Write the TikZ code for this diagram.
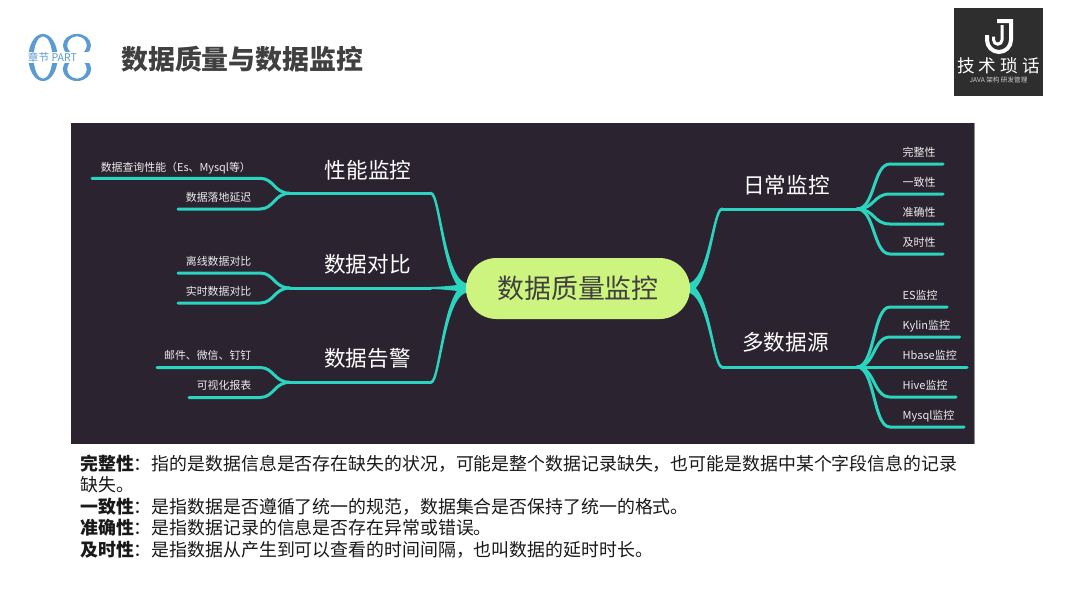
\documentclass[tikz,border=0pt]{standalone}
\usepackage{fontspec}
\setmainfont{Noto Sans CJK SC}
\usetikzlibrary{calc}
\definecolor{panel}{HTML}{2B2430}
\definecolor{teal1}{HTML}{2AD4BE}
\definecolor{rootc}{HTML}{CDF47F}
\definecolor{blue1}{HTML}{5B9BD5}
\newcommand{\fs}[1]{\fontsize{#1pt}{#1pt}\selectfont}
\tikzset{
  x=1pt,y=-1pt,
  branchtxt/.style={text=white,inner sep=0,font=\fs{21.6}},
  leaftxt/.style={text=white!92!black,inner sep=0,font=\fs{10.9},anchor=base east},
  leafr/.style={text=white!92!black,inner sep=0,font=\fs{11},anchor=base west},
  link/.style={draw=teal1,line width=3pt,line cap=round},
  taper/.style={fill=teal1,draw=teal1,line width=2pt,line join=round},
  bodyline/.style={anchor=base west,inner sep=0,text=black!90,font=\fs{17.9}},
}
\newcommand{\tp}[6]{%
  \path[taper] ($(#1)+(0,-#3)$) .. controls ($(#1)+(#4,-#3)$) and ($(#2)+(#5,#6-0.4)$) .. ($(#2)+(0,-0.5)$)
    -- ($(#2)+(0,0.5)$) .. controls ($(#2)+(#5,#6+0.4)$) and ($(#1)+(#4,#3)$) .. ($(#1)+(0,#3)$) -- cycle;}
\begin{document}
\begin{tikzpicture}
\useasboundingbox (0,0) rectangle (1080,608);
\fill[white] (0,0) rectangle (1080,608);

% section mark 08
\fill[blue1,even odd rule] (43,57.5) ellipse (14.6 and 23.6) (43,57.5) ellipse (9.4 and 21.2);
\fill[blue1,even odd rule] (77,45.5) ellipse (14 and 11.6) (77,45.5) ellipse (9.8 and 9.2);
\fill[blue1,even odd rule] (77,69) ellipse (14.2 and 12) (77,69) ellipse (9.8 and 9.6);
\fill[white] (25,52) rectangle (95,62.5);
\node[inner sep=0,text=blue1,font=\fs{10.6}] (part) at (52.5,57.3) {章节 PART};
\node[inner sep=0,anchor=west,text=black!75,font=\fs{26.9}\bfseries] (title) at (121,59) {数据质量与数据监控};

% logo
\fill[black!82] (954,8) rectangle (1043,96);
\draw[white,line width=4pt] (997,21) -- (1011,21) -- (1011,40) arc[start angle=0,end angle=180,radius=12] -- (987,35);
\draw[white,line width=3pt] (1002,25) -- (1002,40) arc[start angle=0,end angle=180,radius=4.2] -- (993.6,36.5);
\node[inner sep=0,text=white,font=\fs{17.6}] (logot) at (998.5,65.5) {技\hspace{4pt}术\hspace{4pt}琐\hspace{4pt}话};
\node[inner sep=0,text=white!80!black,font=\fs{6.6}] (logos) at (998.5,80) {JAVA 架构 研发管理};

% panel
\fill[panel] (71,123) rectangle (974,444);
\draw[black!45,line width=0.6pt] (974,123) -- (974,444);

% anchors
\coordinate (cl) at (468,288);
\coordinate (cr) at (687,288);
\coordinate (a0) at (431,193.3);
\coordinate (a1) at (290,193.3);
\coordinate (a2) at (260,178.3);
\coordinate (a3) at (92,178.3);
\coordinate (a4) at (260,209);
\coordinate (a5) at (178,209);
\coordinate (b0) at (431,288);
\coordinate (b1) at (290,288);
\coordinate (b2) at (260,273);
\coordinate (b3) at (178,273);
\coordinate (b4) at (260,303);
\coordinate (b5) at (178,303);
\coordinate (c0) at (431,382.3);
\coordinate (c1) at (290,382.3);
\coordinate (c2) at (260,367.5);
\coordinate (c3) at (157,367.5);
\coordinate (c4) at (260,397.5);
\coordinate (c5) at (189,397.5);
\coordinate (d0) at (722,209);
\coordinate (d1) at (857,209);
\coordinate (e0) at (722,367);
\coordinate (e1) at (857,367);

% main tapered branches
\tp{cl}{a0}{3.5}{-24}{9}{0}
\tp{cl}{c0}{3.5}{-24}{9}{0}
\path[taper,line width=1.5pt] ($(cl)+(0,-3.5)$) .. controls (455,286) and (445,287.4) .. ($(b0)+(0,-0.3)$) -- ($(b0)+(0,0.3)$) .. controls (445,288.6) and (455,290) .. ($(cl)+(0,3.5)$) -- cycle;
\tp{cr}{d0}{3.5}{22}{-9}{0}
\tp{cr}{e0}{3.5}{22}{-9}{0}

% long straight parts
\draw[link] (a0) -- (a1);
\draw[link] (b0) -- (b1);
\draw[link] (c0) -- (c1);
\draw[link] (d0) -- (d1);
\draw[link] (e0) -- (e1);

% left leaves
\foreach \j/\p/\q in {a1/a2/a3,a1/a4/a5,b1/b2/b3,b1/b4/b5,c1/c2/c3,c1/c4/c5}{
  \draw[link] (\q) -- (\p) .. controls ($(\p)+(14,0)$) and ($(\j)+(-16,0)$) .. (\j);
}
% right leaves
\foreach \y/\e [count=\i] in {164/943,194/943,224/943,254/943}{
  \coordinate (r\i) at (890,\y);
  \coordinate (rr\i) at (\e,\y);
  \draw[link] (d1) .. controls (875,209) and (873,\y) .. (r\i) -- (rr\i);
}
\foreach \y/\e [count=\i] in {307/947,337/959.5,367/967,397/956,427/964}{
  \coordinate (s\i) at (890,\y);
  \coordinate (ss\i) at (\e,\y);
  \draw[link] (e1) .. controls (875,367) and (873,\y) .. (s\i) -- (ss\i);
}

% root
\node[fill=rootc,rounded corners=30.5pt,minimum width=224pt,minimum height=61pt,inner sep=0,text=black!75,font=\fs{26.9}] (root) at (578,288.5) {数据质量监控};

% branch labels
\node[branchtxt] (n1) at (368,170) {性能监控};
\node[branchtxt] (n2) at (367.5,264) {数据对比};
\node[branchtxt] (n3) at (367.5,358) {数据告警};
\node[branchtxt] (n4) at (786.5,185) {日常监控};
\node[branchtxt] (n5) at (785.5,342.5) {多数据源};

% leaf labels left
\node[leaftxt] (l1) at (251,171) {数据查询性能（Es、Mysql等）};
\node[leaftxt] (l2) at (251.5,201) {数据落地延迟};
\node[leaftxt] (l3) at (251.5,265.5) {离线数据对比};
\node[leaftxt] (l4) at (251.5,295.5) {实时数据对比};
\node[leaftxt] (l5) at (251.5,359.5) {邮件、微信、钉钉};
\node[leaftxt] (l6) at (251.5,389.5) {可视化报表};

% leaf labels right
\node[leafr] (k1) at (902.5,156) {完整性};
\node[leafr] (k2) at (902.5,186) {一致性};
\node[leafr] (k3) at (902.5,216) {准确性};
\node[leafr] (k4) at (902.5,246) {及时性};
\node[leafr] (m1) at (902.5,299) {ES监控};
\node[leafr] (m2) at (902.5,329) {Kylin监控};
\node[leafr] (m3) at (902.5,359) {Hbase监控};
\node[leafr] (m4) at (902.5,389) {Hive监控};
\node[leafr] (m5) at (902.5,419) {Mysql监控};

% notes
\node[bodyline] (t1) at (80,470) {\textbf{完整性}：指的是数据信息是否存在缺失的状况，可能是整个数据记录缺失，也可能是数据中某个字段信息的记录};
\node[bodyline] (t2) at (80,491) {缺失。};
\node[bodyline] (t3) at (80,513) {\textbf{一致性}：是指数据是否遵循了统一的规范，数据集合是否保持了统一的格式。};
\node[bodyline] (t4) at (80,534.5) {\textbf{准确性}：是指数据记录的信息是否存在异常或错误。};
\node[bodyline] (t5) at (80,556) {\textbf{及时性}：是指数据从产生到可以查看的时间间隔，也叫数据的延时时长。};
\end{tikzpicture}
\end{document}
